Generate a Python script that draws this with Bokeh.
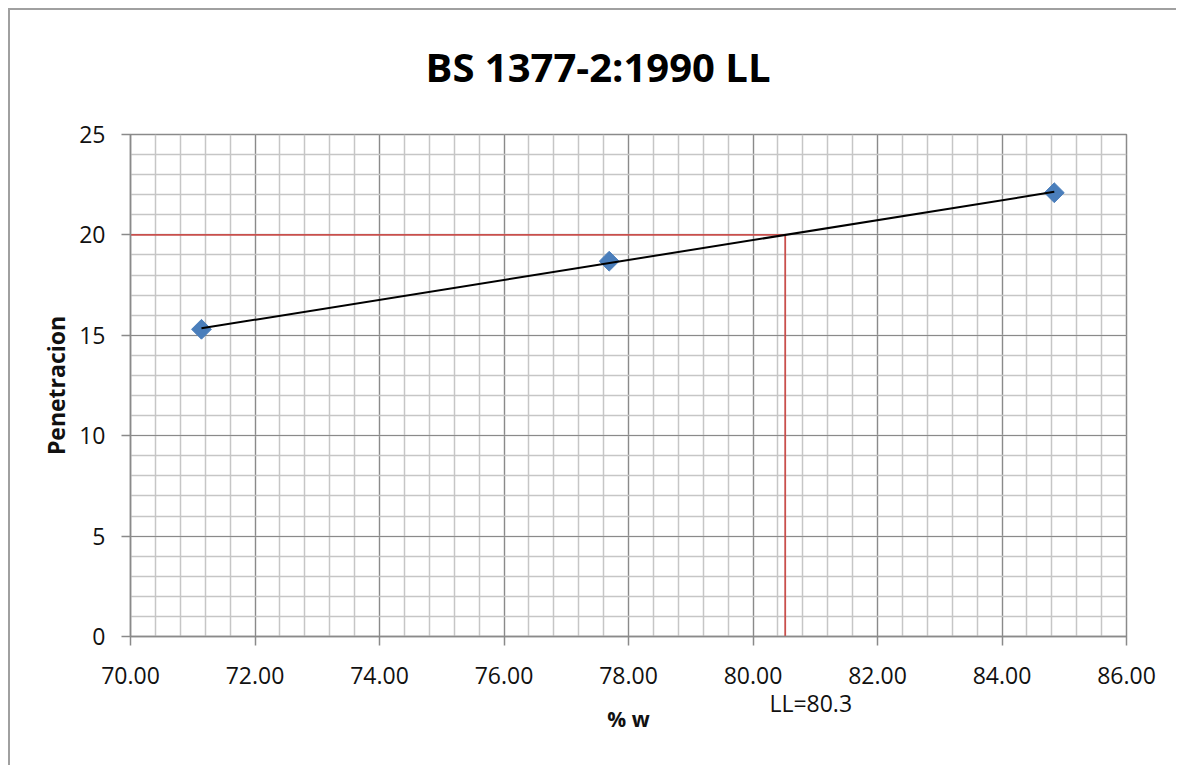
import numpy as np
from bokeh.plotting import figure
from bokeh.models import (SingleIntervalTicker, NumeralTickFormatter, Range1d, LinearAxis,
                          FixedTicker, CustomJSTickFormatter)
from bokeh.embed import file_html
from bokeh.resources import INLINE

# ---- data ----
title_text = "BS 1377-2:1990 LL"
x_label = "% w"
y_label = "Penetracion"
ll_text = "LL=80.3"
target_penetration = 20

water_content = [71.14, 77.69, 84.84]
penetration = [15.30, 18.69, 22.10]

x_start, x_end, x_step = 70, 86, 2
y_start, y_end, y_step = 0, 25, 5

# linear trend line and its crossing with the target penetration
slope, intercept = np.polyfit(water_content, penetration, 1)
fit_x = [min(water_content), max(water_content)]
fit_y = [slope * v + intercept for v in fit_x]
ll_x = (target_penetration - intercept) / slope
LL_LABEL_SHIFT = 0.41  # text sits slightly right of the red line

FONT = "Open Sans"
MAJOR = "#8a8a8a"
MINOR = "#c6c6c6"

p = figure(width=1168, height=757, output_backend="svg", toolbar_location=None,
           x_range=Range1d(x_start, x_end), y_range=Range1d(y_start, y_end),
           min_border_left=120, min_border_right=52, min_border_top=124,
           min_border_bottom=131)
p.styles = {"margin-left": "8px", "margin-top": "8px",
            "border-left": "2px solid #a0a0a0", "border-top": "2px solid #a0a0a0"}
p.background_fill_color = "white"
p.border_fill_color = "white"
p.outline_line_color = MAJOR
p.outline_line_width = 1.5

xax = p.below[0]
yax = p.left[0]
xax.ticker = SingleIntervalTicker(interval=x_step, num_minor_ticks=5)
yax.ticker = SingleIntervalTicker(interval=y_step, num_minor_ticks=5)
xax.formatter = NumeralTickFormatter(format="0.00")

for g in (p.xgrid, p.ygrid):
    g.grid_line_color = MAJOR
    g.grid_line_width = 1.2
    g.minor_grid_line_color = MINOR
    g.minor_grid_line_width = 1.5

for ax in (xax, yax):
    ax.axis_line_color = MAJOR
    ax.axis_line_width = 1.5
    ax.major_tick_line_color = MAJOR
    ax.major_tick_line_width = 1.5
    ax.major_tick_out = 9
    ax.major_tick_in = 0
    ax.minor_tick_out = 0
    ax.minor_tick_in = 0
    ax.major_label_text_font = FONT
    ax.major_label_text_font_size = "23px"
    ax.major_label_text_color = "#111111"
    ax.axis_label_text_font = FONT
    ax.axis_label_text_font_style = "bold"
    ax.axis_label_text_color = "#111111"

yax.axis_label = y_label
yax.axis_label_text_font_size = "23px"
xax.major_label_standoff = 21
yax.major_label_standoff = 16
yax.axis_label_standoff = 4

# empty spacer axis between the plot area and the title
spacer = LinearAxis(ticker=FixedTicker(ticks=[]), axis_line_color=None,
                    major_tick_line_color=None, minor_tick_line_color=None,
                    major_tick_out=0, major_tick_in=0, minor_tick_out=0,
                    minor_tick_in=0, axis_label=" ", axis_label_standoff=32,
                    axis_label_text_font_size="1px", axis_label_text_color="white")
p.add_layout(spacer, "above")

p.title.text = title_text
p.title.align = "left"
p.title.offset = 295
p.title.standoff = 10
p.title.text_font = FONT
p.title.text_font_style = "bold"
p.title.text_font_size = "40px"
p.title.text_color = "black"

# second bottom axis carrying the LL annotation and the x axis title
ll_axis = LinearAxis(ticker=FixedTicker(ticks=[ll_x + LL_LABEL_SHIFT]),
                     formatter=CustomJSTickFormatter(args=dict(label=ll_text),
                                                     code="return label"),
                     axis_line_color=None, major_tick_line_color=None,
                     minor_tick_line_color=None, major_tick_out=0, major_tick_in=0,
                     minor_tick_out=0, minor_tick_in=0, major_label_standoff=0,
                     major_label_text_font=FONT, major_label_text_font_size="23px",
                     major_label_text_color="#111111",
                     axis_label=x_label, axis_label_standoff=-17,
                     axis_label_text_font=FONT, axis_label_text_font_style="bold",
                     axis_label_text_font_size="21px", axis_label_text_color="#111111")
p.add_layout(ll_axis, "below")

# red guide lines to the liquid limit
p.line([x_start, ll_x], [target_penetration, target_penetration],
       line_color="#c94f4c", line_width=1.8)
p.line([ll_x, ll_x], [y_start, target_penetration],
       line_color="#c94f4c", line_width=1.8)

# data points
p.scatter(water_content, penetration, marker="square", angle=np.pi / 4, size=14,
          fill_color="#4a7ebb", line_color="#4a7ebb")

# trend line
p.line(fit_x, fit_y, line_color="black", line_width=2)

open("out.html", "w").write(file_html(p, INLINE))
